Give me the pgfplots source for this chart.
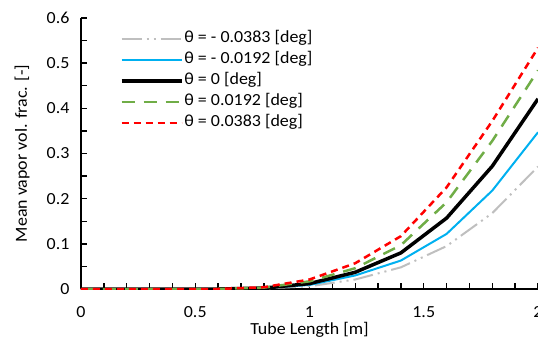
\documentclass[border=0pt]{standalone}
\usepackage{fontspec}
\setmainfont{Carlito}[FakeStretch=1.06]
\usepackage{pgfplots}
\pgfplotsset{compat=1.18}
\usetikzlibrary{calc}
\definecolor{cgray}{RGB}{191,191,191}
\definecolor{cblue}{RGB}{0,176,240}
\definecolor{cgreen}{RGB}{112,173,71}
\definecolor{cred}{RGB}{255,0,0}
\begin{document}
\begin{tikzpicture}
\begin{axis}[name=ax, scale only axis, width=457bp, height=271bp,
  xmin=0, xmax=2, ymin=0, ymax=0.6,
  axis x line*=bottom, axis y line*=left, axis line style={line width=1.5bp, black},
  /pgf/number format/assume math mode=true,
  ticklabel style={font=\fontsize{17}{20}\selectfont},
  yticklabel style={/pgf/number format/fixed, /pgf/number format/precision=1, xshift=-8bp},
  xticklabel style={yshift=-14bp},
  xlabel={Tube Length [m]}, ylabel={Mean vapor vol. frac. [-]},
  label style={font=\fontsize{17}{20}\selectfont},
  xlabel style={at={(axis description cs:0.5,-0.1513)}, anchor=center},
  ylabel style={at={(axis description cs:-0.1291,0.5)}, anchor=center},
  legend cell align=left,
  legend image code/.code={\draw[#1] (0bp,0bp) -- (60bp,0bp);},
  legend style={at={(axis description cs:0.085,0.96)}, anchor=north west, draw=none, fill=none,
    inner sep=0pt, outer sep=0pt, row sep=1bp,
    font=\fontsize{17}{20}\selectfont,
    nodes={inner sep=1bp, text height=13bp, text depth=5bp}},
  xtick={0,0.5,1,1.5,2}, minor x tick num=4,
  ytick={0,0.1,...,0.6}, minor y tick num=1,
  tick align=inside, major tick length=6bp, minor tick length=6bp,
  xtick style={line width=1.4bp, draw=black},
  ytick style={line width=1.4bp, draw=black},
  minor tick style={line width=1.4bp, draw=black},
  major tick style={line width=1.4bp, draw=black},
]
\addplot[cgray, line width=2bp, dash pattern=on 20bp off 5bp on 2bp off 5bp on 2bp off 5bp] coordinates {
(0,0) (0.2,0) (0.4,0) (0.6,0) (0.8,0.001) (1.0,0.006) (1.2,0.021) (1.4,0.048) (1.6,0.095) (1.8,0.168) (2.0,0.271)};
\addlegendentry{θ = - 0.0383 [deg]}
\addplot[cblue, line width=2bp] coordinates {
(0,0) (0.2,0) (0.4,0) (0.6,0) (0.8,0.002) (1.0,0.009) (1.2,0.030) (1.4,0.063) (1.6,0.122) (1.8,0.218) (2.0,0.347)};
\addlegendentry{θ = - 0.0192 [deg]}
\addplot[black, line width=3.5bp] coordinates {
(0,0) (0.2,0) (0.4,0) (0.6,0) (0.8,0.002) (1.0,0.012) (1.2,0.037) (1.4,0.080) (1.6,0.157) (1.8,0.272) (2.0,0.421)};
\addlegendentry{θ = 0 [deg]}
\addplot[cgreen, line width=2.5bp, dash pattern=on 13bp off 9bp] coordinates {
(0,0) (0.2,0) (0.4,0) (0.6,0) (0.8,0.003) (1.0,0.017) (1.2,0.046) (1.4,0.097) (1.6,0.192) (1.8,0.328) (2.0,0.484)};
\addlegendentry{θ = 0.0192 [deg]}
\addplot[cred, line width=2.5bp, dash pattern=on 7bp off 5bp] coordinates {
(0,0) (0.2,0) (0.4,0) (0.6,0) (0.8,0.004) (1.0,0.021) (1.2,0.057) (1.4,0.117) (1.6,0.225) (1.8,0.372) (2.0,0.534)};
\addlegendentry{θ = 0.0383 [deg]}
\end{axis}
\pgfresetboundingbox
\path ($(ax.south west)+(-81bp,-51bp)$) rectangle ($(ax.north east)+(0bp,18bp)$);
\end{tikzpicture}
\end{document}
